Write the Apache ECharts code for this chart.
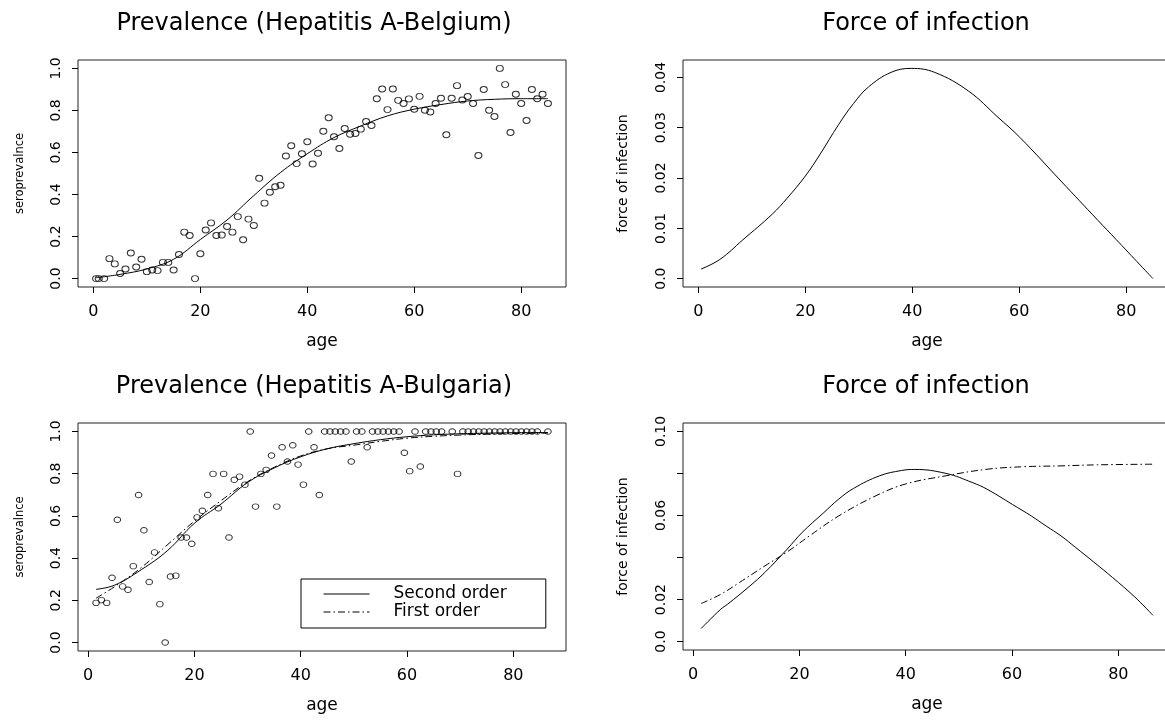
<!DOCTYPE html>
<html><head><meta charset="utf-8">
<script src="https://cdn.jsdelivr.net/npm/echarts@6/dist/echarts.min.js"></script>
<style>html,body{margin:0;padding:0;background:#fff}#c{width:1165px;height:720px}</style>
</head><body><div id="c"></div>
<script>
// ---------- data ----------
const beAges = [0.5,1,2,3,4,5,6,7,8,9,10,11,12,13,14,15,16,17,18,19,20,21,22,23,24,25,26,27,28,29,30,31,32,33,34,35,36,37,38,39,40,41,42,43,44,45,46,47,48,49,50,51,52,53,54,55,56,57,58,59,60,61,62,63,64,65,66,67,68,69,70,71,72,73,74,75,76,77,78,79,80,81,82,83,84,85];
const bePrev = [0.0,0.0,0.0,0.095,0.07,0.024,0.046,0.122,0.055,0.092,0.033,0.041,0.038,0.077,0.077,0.041,0.115,0.221,0.205,0.0,0.118,0.231,0.265,0.205,0.207,0.248,0.221,0.295,0.185,0.283,0.253,0.477,0.359,0.411,0.437,0.444,0.583,0.632,0.547,0.594,0.651,0.545,0.596,0.701,0.765,0.675,0.619,0.714,0.687,0.69,0.711,0.747,0.728,0.856,0.902,0.804,0.902,0.848,0.833,0.855,0.806,0.867,0.801,0.793,0.833,0.858,0.684,0.858,0.918,0.85,0.866,0.833,0.586,0.9,0.801,0.771,1.0,0.923,0.695,0.877,0.833,0.752,0.9,0.856,0.877,0.833];
const beFitAges = [0.5,5,10,15,20,25,30,35,40,45,50,55,60,65,70,75,80,85];
const beFitPrev = [0.004,0.02,0.046,0.092,0.186,0.279,0.395,0.505,0.594,0.671,0.726,0.774,0.806,0.828,0.845,0.853,0.856,0.856];
const beFoiAges = [0.5,4,8.3,13.8,16.6,20,22.8,26.2,29,31.8,36,39.8,44.2,50.5,56,60.1,67.8,74.7,78.1,85];
const beFoi = [0.0019,0.0038,0.0077,0.0128,0.016,0.0204,0.0248,0.0306,0.0348,0.0381,0.041,0.0418,0.041,0.0373,0.0321,0.0281,0.0194,0.0116,0.0078,0.0];

const bgAges = [1.5,2.5,3.5,4.5,5.5,6.5,7.5,8.5,9.5,10.5,11.5,12.5,13.5,14.5,15.5,16.5,17.5,18.5,19.5,20.5,21.5,22.5,23.5,24.5,25.5,26.5,27.5,28.5,29.5,30.5,31.5,32.5,33.5,34.5,35.5,36.5,37.5,38.5,39.5,40.5,41.5,42.5,43.5,44.5,45.5,46.5,47.5,48.5,49.5,50.5,51.5,52.5,53.5,54.5,55.5,56.5,57.5,58.5,59.5,60.5,61.5,62.5,63.5,64.5,65.5,66.5,68.5,69.5,70.5,71.5,72.5,73.5,74.5,75.5,76.5,77.5,78.5,79.5,80.5,81.5,82.5,83.5,84.5,86.5];
const bgPrev = [0.188,0.201,0.188,0.307,0.582,0.266,0.25,0.362,0.699,0.532,0.287,0.427,0.182,0.0,0.313,0.317,0.498,0.498,0.468,0.593,0.624,0.699,0.799,0.636,0.799,0.498,0.771,0.786,0.748,1.0,0.644,0.799,0.818,0.886,0.644,0.925,0.858,0.935,0.843,0.748,1.0,0.925,0.699,1,1,1,1,1,0.858,1,1,0.925,1,1,1,1,1,1,0.899,0.812,1,0.834,1,1,1,1,1,0.799,1,1,1,1,1,1,1,1,1,1,1,1,1,1,1,1];
const bgFitAges = [1.5,5,10,15,20,25,30,35,40,45,50,55,60,65,70,75,80,86.5];
const bgSecond = [0.252,0.272,0.345,0.437,0.565,0.656,0.758,0.827,0.88,0.918,0.942,0.961,0.975,0.984,0.989,0.992,0.994,0.995];
const bgFirst  = [0.21,0.265,0.355,0.465,0.575,0.672,0.762,0.83,0.884,0.918,0.935,0.953,0.968,0.977,0.983,0.987,0.99,0.992];
const bgFoi2Ages = [1.5,5.2,6.5,10.7,13.5,17.7,20.5,24.6,27.4,30.2,35.1,39.2,41.7,47.6,52.5,55.3,60.1,63.6,66.4,69.2,72,75.4,78.9,83.1,86.5];
const bgFoi2 = [0.0062,0.0154,0.0178,0.0265,0.0329,0.044,0.0519,0.0614,0.0678,0.0729,0.0789,0.0814,0.0819,0.08,0.0757,0.0725,0.0652,0.0598,0.055,0.0503,0.0447,0.0378,0.0305,0.0212,0.0125];
const bgFoi1Ages = [1.5,5.2,8.7,13.5,17.7,21.9,27.4,34.4,40,47.6,55.3,62.2,69.2,76.1,86.5];
const bgFoi1 = [0.0181,0.0225,0.0281,0.036,0.0427,0.0503,0.0598,0.0694,0.075,0.0789,0.082,0.0832,0.0836,0.0841,0.0844];

const titles = ['Prevalence (Hepatitis A-Belgium)','Force of infection','Prevalence (Hepatitis A-Bulgaria)','Force of infection'];
const legendNames = ['Second order','First order'];
const xTicks = [0,20,40,60,80];
const prevTicks = [0,0.2,0.4,0.6,0.8,1.0];
const prevLabels = ['0.0','0.2','0.4','0.6','0.8','1.0'];
const foi1Ticks = [0,0.01,0.02,0.03,0.04];
const foi1Labels = ['0.0','0.01','0.02','0.03','0.04'];
const foi2Ticks = [0,0.02,0.04,0.06,0.08,0.10];
const foi2LabelVals = [0,0.02,0.06,0.10];
const foi2Labels = ['0.0','0.02','0.06','0.10'];

// ---------- chart ----------
const FONT = 'DejaVu Sans';
const zip = (a,b) => a.map((x,i)=>[x,b[i]]);
const lookup = (vals,labs) => v => { const i = vals.findIndex(t=>Math.abs(t-v)<1e-9); return i<0?'':labs[i]; };

const grids = [
  {left:78, top:60, width:488, height:227},
  {left:683, top:60, width:488, height:227},
  {left:78, top:423, width:488, height:228},
  {left:683, top:423, width:488, height:227}
].map(g=>Object.assign(g,{show:true,borderColor:'#222',borderWidth:1,backgroundColor:'transparent',outerBoundsMode:'none',containLabel:false}));

function xAx(i,min,max){
  return {gridIndex:i,type:'value',min,max,position:'bottom',
    axisLine:{show:false,onZero:false},splitLine:{show:false},
    axisTick:{show:true,length:6,customValues:xTicks,lineStyle:{color:'#000',width:1}},
    axisLabel:{customValues:xTicks,margin:17,fontSize:16,fontFamily:FONT,color:'#000',formatter:v=>String(v)},
    name:'age',nameLocation:'middle',nameGap:46,
    nameTextStyle:{fontSize:17,fontFamily:FONT,color:'#000'}};
}
function yAx(i,min,max,ticks,lvals,labs,name,nsize,ngap){
  return {gridIndex:i,type:'value',min,max,position:'left',
    axisLine:{show:false,onZero:false},splitLine:{show:false},
    axisTick:{show:true,length:6,customValues:ticks,lineStyle:{color:'#000',width:1}},
    axisLabel:{customValues:lvals,rotate:90,margin:15,fontSize:14,fontFamily:FONT,color:'#000',formatter:lookup(lvals,labs)},
    name,nameLocation:'middle',nameRotate:90,nameGap:ngap,
    nameTextStyle:{fontSize:nsize,fontFamily:FONT,color:'#000'}};
}

const lineBase = {type:'line',symbol:'none',smooth:0.4,silent:true,
  lineStyle:{color:'#000',width:1},itemStyle:{color:'#000'}};
const scatBase = {type:'scatter',symbol:'circle',silent:true,
  itemStyle:{color:'rgba(0,0,0,0)',borderColor:'#000',borderWidth:1}};

const titleCenters = [[314,12],[926,12],[314,375],[926,375]];

const option = {
  animation:false,
  backgroundColor:'#fff',
  title: titles.map((t,i)=>({text:t,left:titleCenters[i][0],top:titleCenters[i][1],textAlign:'center',padding:0,
    textStyle:{fontSize:24,fontWeight:'normal',fontFamily:FONT,color:'#000'}})),
  grid: grids,
  xAxis:[xAx(0,-2.88,88.38),xAx(1,-2.88,88.38),xAx(2,-1.9,89.9),xAx(3,-1.9,89.9)],
  yAxis:[
    yAx(0,-0.04,1.04,prevTicks,prevTicks,prevLabels,'seroprevalnce',11.5,52),
    yAx(1,-0.00167,0.04347,foi1Ticks,foi1Ticks,foi1Labels,'force of infection',14,53),
    yAx(2,-0.04,1.04,prevTicks,prevTicks,prevLabels,'seroprevalnce',11.5,52),
    yAx(3,-0.004,0.104,foi2Ticks,foi2LabelVals,foi2Labels,'force of infection',14,53)
  ],
  legend:{show:true,left:301,top:579,orient:'vertical',itemWidth:46,itemHeight:1,itemGap:0,
    padding:[6,39,7,22],borderColor:'#000',borderWidth:1,backgroundColor:'#fff',selectedMode:false,
    itemStyle:{opacity:0},lineStyle:{width:1,color:'#000'},
    textStyle:{fontFamily:FONT,fontSize:17,color:'#000',lineHeight:18,padding:[0,0,0,19]},
    data:legendNames},
  series:[
    Object.assign({},scatBase,{name:'be-obs',xAxisIndex:0,yAxisIndex:0,symbolSize:[7,6],data:zip(beAges,bePrev)}),
    Object.assign({},lineBase,{name:'be-fit',xAxisIndex:0,yAxisIndex:0,data:zip(beFitAges,beFitPrev)}),
    Object.assign({},lineBase,{name:'be-foi',xAxisIndex:1,yAxisIndex:1,data:zip(beFoiAges,beFoi)}),
    Object.assign({},scatBase,{name:'bg-obs',xAxisIndex:2,yAxisIndex:2,symbolSize:[6.5,5.5],data:zip(bgAges,bgPrev)}),
    Object.assign({},lineBase,{name:legendNames[0],xAxisIndex:2,yAxisIndex:2,data:zip(bgFitAges,bgSecond)}),
    Object.assign({},lineBase,{name:legendNames[1],xAxisIndex:2,yAxisIndex:2,
      lineStyle:{color:'#000',width:1,type:[7,3,1.5,3]},data:zip(bgFitAges,bgFirst)}),
    Object.assign({},lineBase,{name:'bg-foi2',xAxisIndex:3,yAxisIndex:3,data:zip(bgFoi2Ages,bgFoi2)}),
    Object.assign({},lineBase,{name:'bg-foi1',xAxisIndex:3,yAxisIndex:3,
      lineStyle:{color:'#000',width:1,type:[7,3,1.5,3]},data:zip(bgFoi1Ages,bgFoi1)})
  ]
};
const chart = echarts.init(document.getElementById('c'),null,{renderer:'canvas'});
chart.setOption(option);
</script></body></html>
